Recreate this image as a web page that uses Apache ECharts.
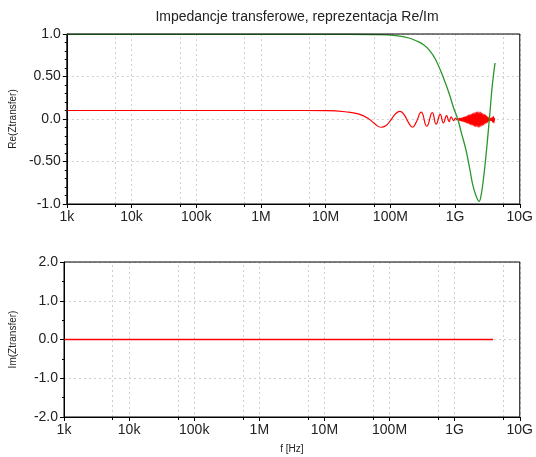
<!DOCTYPE html>
<html>
<head>
<meta charset="utf-8">
<script src="https://cdn.jsdelivr.net/npm/echarts@6/dist/echarts.min.js"></script>
<style>
html,body{margin:0;padding:0;background:#fff;}
#chart{width:536px;height:457px;}
</style>
</head>
<body>
<div id="chart"></div>
<script>
// ---- data ----
const TITLE = 'Impedancje transferowe, reprezentacja Re/Im';
const X_TICK_LABELS = {3:'1k',4:'10k',5:'100k',6:'1M',7:'10M',8:'100M',9:'1G',10:'10G'};
const MINOR_GRID_FREQ = [5.6e3,5.6e4,5.6e5,5.6e6,5.6e7,5.6e8,5.6e9];

// Re, green curve (Hz, value)
const reGreenFreq = [1e3,1e5,1e7,5e7,9e7,1.4e8,2e8,2.6e8,3.3e8,4e8,5e8,6.5e8,8.1e8,9.5e8,1.1e9,1.25e9,1.48e9,1.7e9,1.87e9,2.1e9,2.35e9,2.55e9,2.8e9,3.05e9,3.3e9,3.5e9,3.7e9,3.9e9,4.15e9];
const reGreenVal  = [0.995,0.995,0.995,0.993,0.99,0.975,0.95,0.915,0.87,0.81,0.70,0.50,0.30,0.13,0.0,-0.16,-0.37,-0.60,-0.77,-0.90,-0.97,-0.88,-0.65,-0.38,-0.10,0.12,0.34,0.50,0.66];

// Re, red curve (Hz, value)
const reRedFreq = [1e3,1e6,5e6,1e7,2e7,3.2e7,4.5e7,5.8e7,7.2e7,8.5e7,1.0e8,1.2e8,1.4e8,1.6e8,1.9e8,2.2e8,2.5e8,3.0e8,3.65e8,4.45e8,5.1e8,5.9e8,6.6e8,7.4e8,8.1e8,8.7e8,9.5e8,1.02e9,1.07e9,
  1.122e9,1.148e9,1.175e9,1.202e9,1.230e9,1.259e9,1.288e9,1.318e9,1.349e9,1.380e9,1.413e9,1.445e9,1.479e9,1.514e9,1.549e9,1.585e9,1.622e9,1.660e9,1.698e9,1.738e9,1.778e9,1.820e9,1.862e9,1.905e9,1.950e9,1.995e9,2.042e9,2.089e9,2.138e9,2.188e9,2.239e9,2.291e9,2.344e9,2.399e9,2.455e9,2.512e9,2.570e9,2.630e9,2.692e9,2.754e9,2.818e9,2.884e9,2.951e9,3.020e9,3.090e9,3.162e9,3.236e9,3.311e9,3.388e9,3.467e9,3.548e9,3.631e9,3.715e9,3.802e9,3.890e9,3.981e9,4.074e9];
const reRedVal = [0.1,0.1,0.1,0.098,0.085,0.06,0.01,-0.06,-0.097,-0.08,-0.02,0.06,0.09,0.06,-0.04,-0.097,-0.04,0.08,-0.085,0.075,-0.06,0.055,-0.045,0.04,-0.03,0.025,-0.02,0.012,-0.01,
  0.003,-0.015,0.007,-0.019,0.011,-0.023,0.015,-0.027,0.020,-0.033,0.025,-0.038,0.031,-0.045,0.038,-0.051,0.045,-0.058,0.051,-0.065,0.058,-0.071,0.065,-0.078,0.071,-0.084,0.077,-0.090,0.082,-0.094,0.085,-0.095,0.085,-0.093,0.080,-0.087,0.073,-0.079,0.065,-0.070,0.055,-0.060,0.045,-0.050,0.035,-0.039,0.023,-0.027,0.012,-0.018,0.007,-0.020,0.017,-0.035,0.032,-0.045,0.015];

// Im, red curve
const imRedFreq = [1e3,3.9e9];
const imRedVal  = [0,0];

// ---- build ----
const zip = (xs, ys) => xs.map((x, i) => [x, ys[i]]);
const FONT = 'Liberation Sans, Arial, sans-serif';
const GRID_LINE = {show:true, lineStyle:{color:'#cfcfcf', type:[2,3], width:1}};

function xAxisDef(gridIndex){
  return {
    type:'log', logBase:10, min:1e3, max:1e10, gridIndex,
    axisLine:{show:true, onZero:false, lineStyle:{color:'#000', width:1}},
    axisTick:{show:true, inside:false, length:4, lineStyle:{color:'#000'}},
    axisLabel:{color:'#222', fontSize:14, fontFamily:FONT, margin:6,
      formatter: v => X_TICK_LABELS[Math.round(Math.log10(v))] || ''},
    splitLine: GRID_LINE
  };
}
function xMinorTickAxis(gridIndex){
  return {
    type:'log', logBase:10, min:1e3, max:1e10, gridIndex, position:'bottom',
    axisLine:{show:false, onZero:false},
    axisTick:{show:true, inside:false, length:3, customValues:MINOR_GRID_FREQ, lineStyle:{color:'#000'}},
    axisLabel:{show:false},
    splitLine:{show:false}
  };
}
const minorGridMark = {
  silent:true, symbol:'none', label:{show:false},
  lineStyle:{color:'#cfcfcf', type:[2,3], width:1},
  data: MINOR_GRID_FREQ.map(f => ({xAxis:f}))
};

const chart = echarts.init(document.getElementById('chart'), null, {renderer:'canvas'});
chart.setOption({
  animation:false,
  backgroundColor:'#fff',
  title:{text:TITLE, left:292, top:5, textAlign:'center',
    textStyle:{fontSize:14, fontWeight:'normal', color:'#222', fontFamily:FONT}},
  grid:[
    {left:64, right:15, top:34, height:170, show:true, z:5, borderColor:'#000', borderWidth:1, backgroundColor:'transparent'},
    {left:64, right:15, top:262, height:155, show:true, z:5, borderColor:'#000', borderWidth:1, backgroundColor:'transparent'}
  ],
  xAxis:[
    xAxisDef(0),
    Object.assign(xAxisDef(1), {name:'f [Hz]', nameLocation:'middle', nameGap:27,
      nameTextStyle:{fontSize:10, color:'#222', fontFamily:FONT}}),
    xMinorTickAxis(0),
    xMinorTickAxis(1)
  ],
  yAxis:[
    {type:'value', gridIndex:0, min:-1, max:1, interval:0.5,
      name:'Re(Ztransfer)', nameLocation:'middle', nameGap:46, nameRotate:90,
      nameTextStyle:{fontSize:10, color:'#222', fontFamily:FONT},
      axisLine:{show:true, onZero:false, lineStyle:{color:'#000'}},
      axisTick:{show:true, length:4, lineStyle:{color:'#000'}},
      minorTick:{show:true, splitNumber:5, length:2, lineStyle:{color:'#000'}},
      axisLabel:{color:'#222', fontSize:14, fontFamily:FONT, margin:6,
        formatter: v => (v === 0 ? '0.0' : (Math.abs(v) === 1 ? v.toFixed(1) : v.toFixed(2)))},
      splitLine: GRID_LINE},
    {type:'value', gridIndex:1, min:-2, max:2, interval:1,
      name:'Im(Ztransfer)', nameLocation:'middle', nameGap:46, nameRotate:90,
      nameTextStyle:{fontSize:10, color:'#222', fontFamily:FONT},
      axisLine:{show:true, onZero:false, lineStyle:{color:'#000'}},
      axisTick:{show:true, length:4, lineStyle:{color:'#000'}},
      minorTick:{show:true, splitNumber:2, length:2, lineStyle:{color:'#000'}},
      axisLabel:{color:'#222', fontSize:14, fontFamily:FONT, margin:6,
        formatter: v => v.toFixed(1)},
      splitLine: GRID_LINE}
  ],
  series:[
    {type:'line', z:0, xAxisIndex:0, yAxisIndex:0, data:[], markLine:Object.assign({z:0}, minorGridMark)},
    {type:'line', z:0, xAxisIndex:1, yAxisIndex:1, data:[], markLine:Object.assign({z:0}, minorGridMark)},
    {type:'line', z:3, xAxisIndex:0, yAxisIndex:0, data:zip(reRedFreq, reRedVal),
      showSymbol:false, smooth:0.5, lineStyle:{color:'#ff0000', width:1.2}, itemStyle:{color:'#ff0000'}},
    {type:'line', z:4, xAxisIndex:0, yAxisIndex:0, data:zip(reGreenFreq, reGreenVal),
      showSymbol:false, smooth:0.4, lineStyle:{color:'#2a962a', width:1.3}, itemStyle:{color:'#2a962a'}},
    {type:'line', z:3, xAxisIndex:1, yAxisIndex:1, data:zip(imRedFreq, imRedVal),
      showSymbol:false, lineStyle:{color:'#ff0000', width:1.3}, itemStyle:{color:'#ff0000'}}
  ]
});
</script>
</body>
</html>
